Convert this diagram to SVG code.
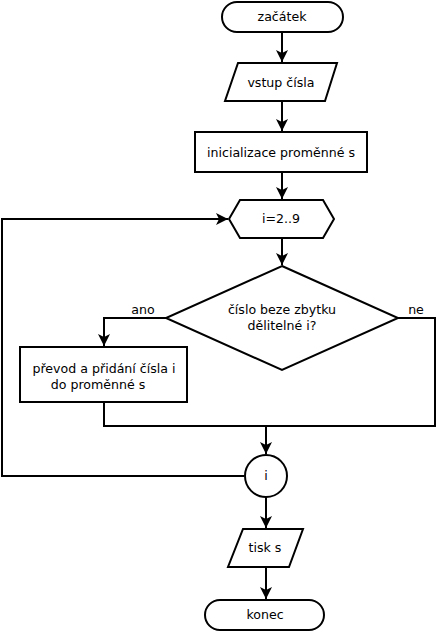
<svg xmlns="http://www.w3.org/2000/svg" width="436" height="632" viewBox="0 0 436 632">
<defs>
<style>
.s{fill:#fff;stroke:#000;stroke-width:2}
.c{fill:none;stroke:#000;stroke-width:2}
text{font-family:"DejaVu Sans",sans-serif;font-size:12.6px;fill:#000;text-anchor:middle}
</style>
<marker id="a" markerUnits="userSpaceOnUse" markerWidth="14" markerHeight="14" refX="12" refY="6" orient="auto">
<path d="M0,0 L12,6 L0,12 L3,6 Z" fill="#000"/>
</marker>
</defs>
<g id="connectors">
<path class="c" d="M282,32 V62" marker-end="url(#a)"/>
<path class="c" d="M282,101 V131" marker-end="url(#a)"/>
<path class="c" d="M282,172 V199" marker-end="url(#a)"/>
<path class="c" d="M282,238 V265" marker-end="url(#a)"/>
<path class="c" d="M166,318 H104 V346" marker-end="url(#a)"/>
<path class="c" d="M398,318 H435 V426 H104 V402"/>
<path class="c" d="M266,426 V454" marker-end="url(#a)"/>
<path class="c" d="M244,476 H2 V219 H228" marker-end="url(#a)"/>
<path class="c" d="M266,497 V528" marker-end="url(#a)"/>
<path class="c" d="M266,567 V599" marker-end="url(#a)"/>
</g>
<g id="start">
<rect class="s" x="222" y="2" width="121" height="30" rx="15"/>
<text x="282" y="21">začátek</text>
</g>
<g id="input">
<polygon class="s" points="238,63 337,63 325,101 225,101"/>
<text x="281" y="87">vstup čísla</text>
</g>
<g id="init">
<rect class="s" x="195" y="132" width="172" height="40"/>
<text x="281" y="157">inicializace proměnné s</text>
</g>
<g id="loop">
<polygon class="s" points="229,219 240,200 323,200 334,219 323,238 240,238"/>
<text x="281" y="223">i=2..9</text>
</g>
<g id="decision">
<polygon class="s" points="282,266 398,318 282,370 166,318"/>
<text x="282" y="314">číslo beze zbytku</text>
<text x="282" y="330">dělitelné i?</text>
<text x="143" y="314">ano</text>
<text x="416" y="314">ne</text>
</g>
<g id="append">
<rect class="s" x="20" y="347" width="167" height="55"/>
<text x="104" y="373">převod a přidání čísla i</text>
<text x="98" y="389">do proměnné s</text>
</g>
<g id="loopend">
<circle class="s" cx="266" cy="476" r="21"/>
<text x="266" y="480">i</text>
</g>
<g id="output">
<polygon class="s" points="243,529 303,529 289,567 228,567"/>
<text x="265" y="552">tisk s</text>
</g>
<g id="end">
<rect class="s" x="205" y="600" width="119" height="30" rx="15"/>
<text x="265" y="619">konec</text>
</g>
</svg>
